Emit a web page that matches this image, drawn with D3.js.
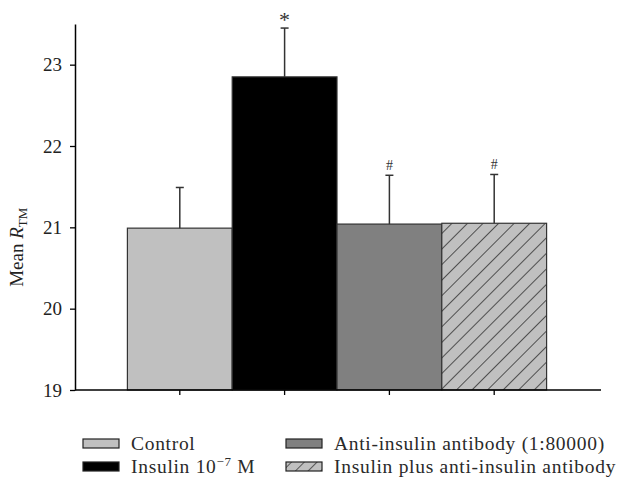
<!DOCTYPE html>
<html>
<head>
<meta charset="utf-8">
<script src="https://cdn.jsdelivr.net/npm/d3@7"></script>
<style>
  body { margin: 0; background: #fff; }
  svg text { font-family: "Liberation Serif", "DejaVu Serif", serif; }
</style>
</head>
<body>
<svg id="chart" width="624" height="488"></svg>
<script>
const groups = ['Control', 'Insulin', 'Anti', 'Both']
const means = [20.99, 22.85, 21.04, 21.05]
const errors = [0.5, 0.6, 0.6, 0.6]
const marks = ['', '*', '#', '#']
const yTicks = [19, 20, 21, 22, 23]
const fills = ['#c0c0c0', '#000000', '#808080', 'url(#hatch)']

const svg = d3.select('#chart')
const margin = {top: 24, right: 25, bottom: 98, left: 75}
const width = 624 - margin.left - margin.right
const height = 488 - margin.top - margin.bottom

const defs = svg.append('defs')
const pat = defs.append('pattern')
  .attr('id', 'hatch')
  .attr('patternUnits', 'userSpaceOnUse')
  .attr('width', 11).attr('height', 11)
  .attr('patternTransform', 'rotate(45)')
pat.append('rect').attr('width', 11).attr('height', 11).attr('fill', '#c0c0c0')
pat.append('line').attr('x1', 0).attr('y1', 0).attr('x2', 0).attr('y2', 11)
  .attr('stroke', '#111').attr('stroke-width', 1.3)

const pat2 = defs.append('pattern')
  .attr('id', 'hatchSmall')
  .attr('patternUnits', 'userSpaceOnUse')
  .attr('width', 9).attr('height', 9)
  .attr('patternTransform', 'translate(2,0) rotate(45)')
pat2.append('rect').attr('width', 9).attr('height', 9).attr('fill', '#c0c0c0')
pat2.append('line').attr('x1', 0).attr('y1', 0).attr('x2', 0).attr('y2', 9)
  .attr('stroke', '#111').attr('stroke-width', 1.2)

const g = svg.append('g').attr('transform', `translate(${margin.left},${margin.top})`)

const x = d3.scaleBand().domain(groups).range([0, width]).paddingInner(0).paddingOuter(0.5)
const y = d3.scaleLinear().domain([19, 23.5]).range([height, 0])

// bars
g.selectAll('rect.bar')
  .data(groups)
  .join('rect')
  .attr('class', 'bar')
  .attr('x', d => x(d))
  .attr('y', (d, i) => y(means[i]))
  .attr('width', x.bandwidth())
  .attr('height', (d, i) => y(19) - y(means[i]))
  .attr('fill', (d, i) => fills[i])
  .attr('stroke', '#333')
  .attr('stroke-width', 1.2)

// error bars
const cx = d => x(d) + x.bandwidth() / 2
g.selectAll('line.err')
  .data(groups)
  .join('line')
  .attr('class', 'err')
  .attr('x1', cx).attr('x2', cx)
  .attr('y1', (d, i) => y(means[i]))
  .attr('y2', (d, i) => y(means[i] + errors[i]))
  .attr('stroke', '#333').attr('stroke-width', 1.5)
g.selectAll('line.cap')
  .data(groups)
  .join('line')
  .attr('class', 'cap')
  .attr('x1', d => cx(d) - 4).attr('x2', d => cx(d) + 4)
  .attr('y1', (d, i) => y(means[i] + errors[i]))
  .attr('y2', (d, i) => y(means[i] + errors[i]))
  .attr('stroke', '#333').attr('stroke-width', 1.5)

// significance marks
g.selectAll('text.mark')
  .data(groups)
  .join('text')
  .attr('class', 'mark')
  .attr('x', cx)
  .attr('y', (d, i) => y(means[i] + errors[i]) - (marks[i] === '*' ? 1 : 5))
  .attr('text-anchor', 'middle')
  .attr('font-size', (d, i) => marks[i] === '*' ? 22 : 14)
  .attr('fill', '#333')
  .text((d, i) => marks[i])

// axes
const yAxis = g.append('g')
  .style('font-family', '"Liberation Serif", serif')
  .call(d3.axisLeft(y).tickValues(yTicks).tickFormat(d3.format('d')).tickSize(5).tickPadding(8).tickSizeOuter(0))
yAxis.select('.domain').attr('stroke-width', 1.5)
yAxis.selectAll('.tick line').attr('stroke-width', 1.3)
yAxis.selectAll('text').attr('font-size', 19).attr('fill', '#222')
  .style('font-family', '"Liberation Serif", serif')

const xAxis = g.append('g')
  .attr('transform', `translate(0,${height})`)
  .call(d3.axisBottom(x).tickSize(5).tickSizeOuter(0).tickFormat(''))
xAxis.select('.domain').attr('stroke-width', 1.5)
  .attr('d', `M0,0H${width + 2}`)
xAxis.selectAll('.tick line').attr('stroke-width', 1.3)

// y label
svg.append('text')
  .attr('transform', `translate(23,${margin.top + height * 0.61}) rotate(-90)`)
  .attr('text-anchor', 'middle')
  .attr('font-size', 19)
  .attr('fill', '#222')
  .call(t => {
    t.append('tspan').text('Mean ')
    t.append('tspan').attr('font-style', 'italic').text('R')
    t.append('tspan').attr('font-size', 13).attr('dy', 4).text('TM')
  })

// legend
const legendItems = [
  {fill: '#c0c0c0', x: 83, y: 439, label: ['Control']},
  {fill: '#000000', x: 83, y: 462, label: ['Insulin 10', '−7', ' M']},
  {fill: '#808080', x: 286, y: 439, label: ['Anti-insulin antibody (1:80000)']},
  {fill: 'url(#hatchSmall)', x: 286, y: 462, label: ['Insulin plus anti-insulin antibody']}
]
const leg = svg.append('g')
leg.selectAll('rect')
  .data(legendItems)
  .join('rect')
  .attr('x', d => d.x).attr('y', d => d.y)
  .attr('width', 36).attr('height', 9)
  .attr('fill', d => d.fill)
  .attr('stroke', '#222').attr('stroke-width', 1.2)
leg.selectAll('text')
  .data(legendItems)
  .join('text')
  .attr('x', d => d.x + 48)
  .attr('y', d => d.y + 11)
  .attr('font-size', 19.5)
  .attr('letter-spacing', 0.7)
  .attr('fill', '#2a2a2a')
  .each(function(d) {
    const t = d3.select(this)
    t.append('tspan').text(d.label[0])
    if (d.label.length > 1) {
      t.append('tspan').attr('font-size', 13).attr('dy', -7).text(d.label[1])
      t.append('tspan').attr('dy', 7).text(d.label[2])
    }
  })
</script>
</body>
</html>
